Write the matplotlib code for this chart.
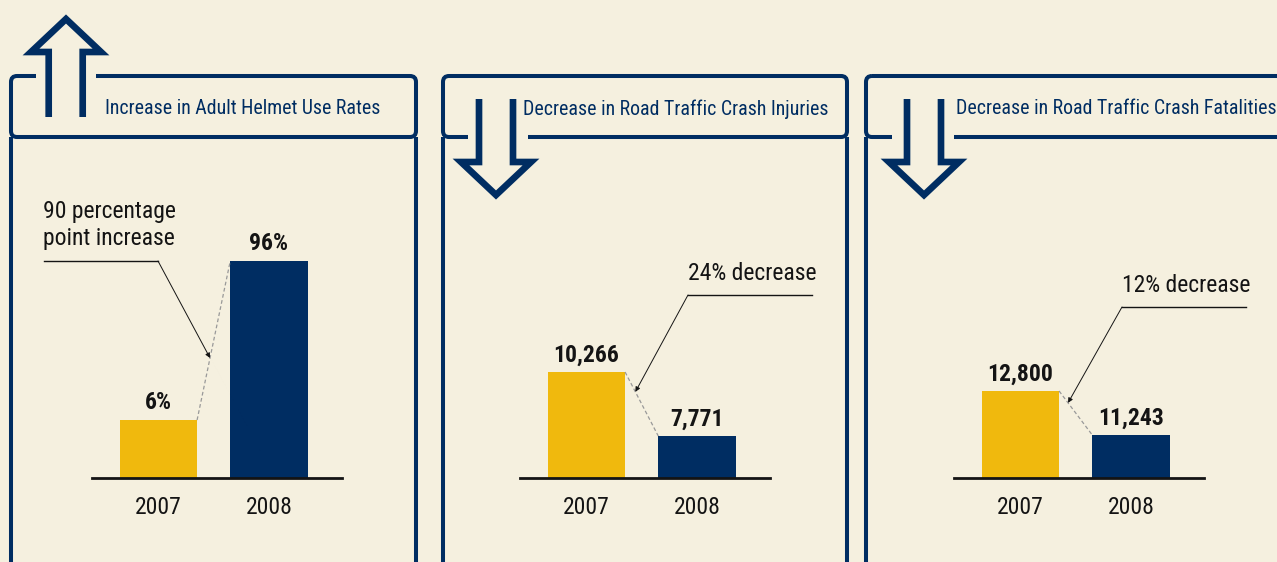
import matplotlib
matplotlib.use('Agg')
import matplotlib.pyplot as plt
from matplotlib.patches import FancyBboxPatch, Rectangle

# data
years = ['2007', '2008']
helmet_use = [6, 96]
crash_injuries = [10266, 7771]
crash_fatalities = [12800, 11243]
series = [helmet_use, crash_injuries, crash_fatalities]
value_labels = [['6%', '96%'], ['10,266', '7,771'], ['12,800', '11,243']]
titles = ['Increase in Adult Helmet Use Rates',
          'Decrease in Road Traffic Crash Injuries',
          'Decrease in Road Traffic Crash Fatalities']
notes = ['90 percentage\npoint increase', '24% decrease', '12% decrease']

# the original bars do not start at zero, each panel has its own floor/top
y_floor = [-26.8, 6134, 9721]
y_top = [130.5, 16972, 19558]

BG = '#f5f0df'
NAVY = '#002d62'
GOLD = '#f0b90d'
INK = '#141414'

plt.rcParams['font.family'] = ['Roboto Condensed', 'DejaVu Sans']

W, H = 1277, 562
fig = plt.figure(figsize=(W / 100, H / 100), dpi=100)
fig.patch.set_facecolor(BG)

# overlay in pixel units for the frames and arrows
ov = fig.add_axes([0, 0, 1, 1], zorder=0)
ov.set_xlim(0, W)
ov.set_ylim(H, 0)
ov.axis('off')


def px_rect(x0, y0, x1, y1):
    return [x0 / W, 1 - y1 / H, (x1 - x0) / W, (y1 - y0) / H]


frames = [(11, 416), (443, 847), (866, 1300)]
gaps = [(36, 96, 76), (468, 528, 137), (892, 954, 137)]
arrows = [
    [(48.7, 117), (48.7, 52), (31, 52), (66, 19), (101, 52), (82.7, 52), (82.7, 117)],
    [(479, 99), (479, 162), (461, 162), (496, 195), (531, 162), (513, 162), (513, 99)],
    [(907, 99), (907, 162), (889, 162), (924, 195), (959, 162), (941, 162), (941, 99)],
]
title_x = [105, 523, 956]

for (l, r), (g0, g1, gy), arr, tx, title in zip(frames, gaps, arrows, title_x, titles):
    ov.add_patch(FancyBboxPatch((l, 76), r - l, 61, boxstyle='round,pad=0,rounding_size=6',
                                fill=False, ec=NAVY, lw=2.9, zorder=2))
    ov.plot([l, l], [137, 600], color=NAVY, lw=2.9, solid_capstyle='butt', zorder=2)
    ov.plot([r, r], [137, 600], color=NAVY, lw=2.9, solid_capstyle='butt', zorder=2)
    ov.add_patch(Rectangle((g0, gy - 5), g1 - g0, 10, color=BG, lw=0, zorder=3))
    xs = [p[0] for p in arr]
    ys = [p[1] for p in arr]
    ov.plot(xs, ys, color=NAVY, lw=4.8, solid_joinstyle='miter', solid_capstyle='butt', zorder=4)
    ov.text(tx, 109, title, color=NAVY, fontsize=14.3, ha='left', va='center', zorder=5)

# bar panels
ax_x = [92, 520, 954]
note_pos = [(43, 200), (688, 274), (1122, 285)]
elbows = [((44, 261), (158, 261)), ((812, 295), (688, 295)), ((1246, 307), (1122, 307))]
tip_frac = [0.39, 0.31, 0.27]
bw = 0.7

for i, vals in enumerate(series):
    ax = fig.add_axes(px_rect(ax_x[i], 200, ax_x[i] + 250, 478), zorder=1)
    ax.patch.set_alpha(0)
    fl = y_floor[i]
    ax.bar([0, 1], [v - fl for v in vals], bottom=fl, width=bw, color=[GOLD, NAVY])
    ax.set_xlim(-0.6, 1.66)
    ax.set_ylim(fl, y_top[i])
    for s in ['left', 'right', 'top']:
        ax.spines[s].set_visible(False)
    ax.spines['bottom'].set_color(INK)
    ax.spines['bottom'].set_linewidth(2)
    ax.set_yticks([])
    ax.set_xticks([0, 1], years)
    ax.tick_params(axis='x', length=0, pad=13, labelsize=17, labelcolor=INK)

    for j, v in enumerate(vals):
        ax.annotate(value_labels[i][j], (j, v), xytext=(0, 4), textcoords='offset points',
                    ha='center', va='bottom', fontsize=17, fontweight='bold', color=INK)

    # dashed link between the bar tops
    x0, x1 = bw / 2, 1 - bw / 2
    ax.plot([x0, x1], [vals[0], vals[1]], ls=(0, (3, 2)), color='#999999', lw=0.9)

    # leader line and note
    f = tip_frac[i]
    tip = (x0 + f * (x1 - x0), vals[0] + f * (vals[1] - vals[0]))
    (ex0, ey0), (ex1, ey1) = elbows[i]
    ov.plot([ex0, ex1], [ey0, ey1], color=INK, lw=1)
    ax.annotate('', xy=tip, xycoords='data', xytext=(ex1, ey1), textcoords=ov.transData,
                arrowprops=dict(arrowstyle='-|>', mutation_scale=7, lw=0.7, color=INK,
                                shrinkA=0, shrinkB=0))
    nx, ny = note_pos[i]
    ov.text(nx, ny, notes[i], fontsize=17, color=INK, ha='left',
            va='top' if i == 0 else 'center', linespacing=1.2)

fig.savefig('out.png', dpi=100, facecolor=BG)
